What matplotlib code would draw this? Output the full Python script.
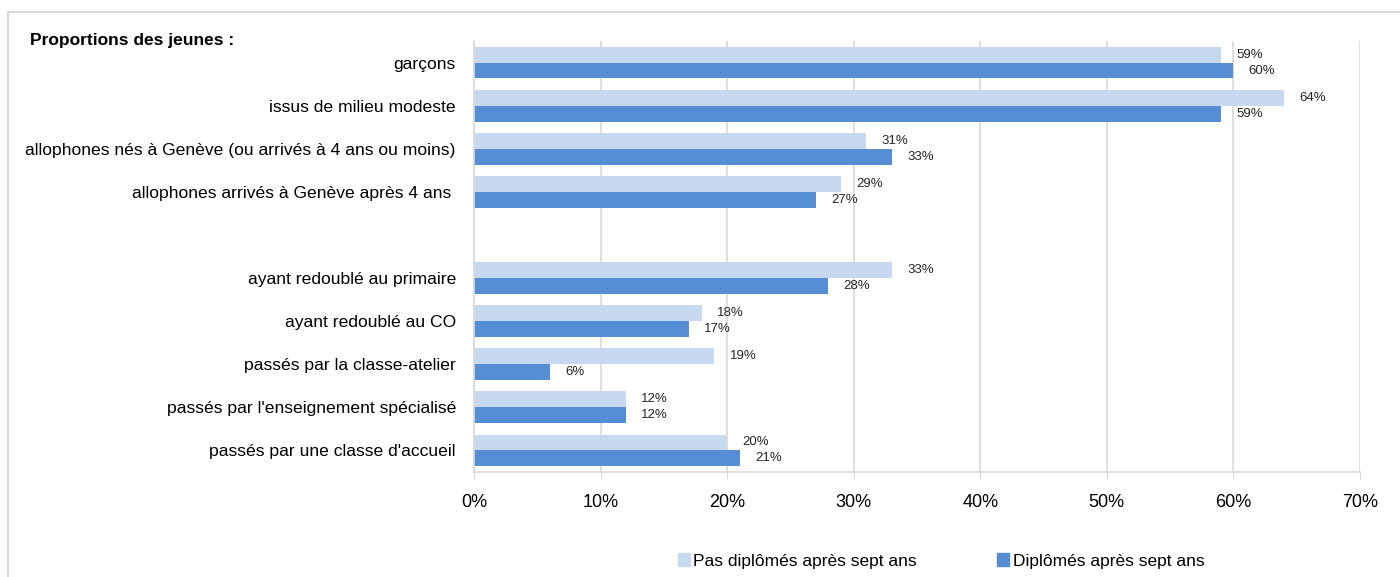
import matplotlib
matplotlib.use('Agg')
import matplotlib.pyplot as plt
from matplotlib.lines import Line2D
from matplotlib.patches import Rectangle

plt.rcParams['font.family'] = ['Liberation Sans Narrow', 'Liberation Sans', 'DejaVu Sans']

categories = ["garçons",
              "issus de milieu modeste",
              "allophones nés à Genève (ou arrivés à 4 ans ou moins)",
              "allophones arrivés à Genève après 4 ans ",
              "",
              "ayant redoublé au primaire",
              "ayant redoublé au CO",
              "passés par la classe-atelier",
              "passés par l'enseignement spécialisé",
              "passés par une classe d'accueil"]
pas_diplomes = [59, 64, 31, 29, None, 33, 18, 19, 12, 20]
diplomes = [60, 59, 33, 27, None, 28, 17, 6, 12, 21]
series_names = ["Pas diplômés après sept ans", "Diplômés après sept ans"]
xticks = [0, 10, 20, 30, 40, 50, 60, 70]

light = "#C6D9F1"
dark = "#558ED5"
grid = "#D9D9D9"

fig = plt.figure(figsize=(14, 5.77), dpi=100)
ax = fig.add_axes([474 / 1400, 1 - 472 / 577, (1360 - 474) / 1400, (472 - 41) / 577])

h = 0.37
for i, (a, b) in enumerate(zip(pas_diplomes, diplomes)):
    if a is not None:
        ax.barh(i - h / 2, a, height=h, color=light, zorder=2)
        ax.annotate("%d%%" % a, (a, i - h / 2), xytext=(11, 0), textcoords='offset points',
                    va='center', ha='left', fontsize=9.5, color='#262626')
    if b is not None:
        ax.barh(i + h / 2, b, height=h, color=dark, zorder=2)
        ax.annotate("%d%%" % b, (b, i + h / 2), xytext=(11, 0), textcoords='offset points',
                    va='center', ha='left', fontsize=9.5, color='#262626')

ax.set_ylim(len(categories) - 0.5, -0.5)
ax.set_yticks(range(len(categories)))
ax.set_yticklabels(categories, fontsize=12.6, color='black')
ax.tick_params(axis='y', length=0, pad=13)

ax.set_xlim(0, 70)
ax.set_xticks(xticks)
ax.set_xticklabels(["%d%%" % t for t in xticks], fontsize=13, color='black')
ax.tick_params(axis='x', length=5, color=grid, pad=11)
ax.xaxis.grid(True, color=grid, linewidth=1.2, zorder=0)
ax.set_axisbelow(True)

for s in ['top', 'right']:
    ax.spines[s].set_visible(False)
for s in ['left', 'bottom']:
    ax.spines[s].set_color(grid)
    ax.spines[s].set_linewidth(1.2)

fig.text(30 / 1400, 1 - 40 / 577, "Proportions des jeunes :", fontsize=12.5,
         fontweight='bold', va='center', ha='left')

# outer frame (top and left edges)
fig.add_artist(Line2D([8 / 1400, 1], [1 - 12 / 577, 1 - 12 / 577], color=grid, linewidth=1.5))
fig.add_artist(Line2D([8 / 1400, 8 / 1400], [0, 1 - 12 / 577], color=grid, linewidth=1.5))

# legend
handles = [Rectangle((0, 0), 1, 1, color=light), Rectangle((0, 0), 1, 1, color=dark)]
fig.legend(handles, series_names, loc='center', bbox_to_anchor=(941 / 1400, 1 - 561 / 577),
           ncol=2, frameon=False, fontsize=12.5, handlelength=0.7, handleheight=0.7,
           handletextpad=0.2, columnspacing=4.6)

fig.savefig("out.png", dpi=100)
